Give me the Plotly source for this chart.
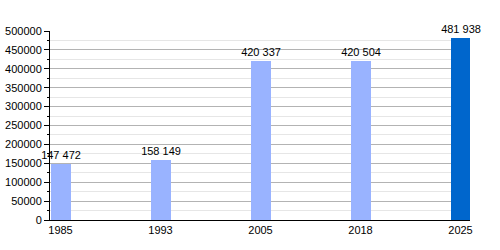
import plotly.graph_objects as go

years = ["1985", "1993", "2005", "2018", "2025"]
population = [147472, 158149, 420337, 420504, 481938]
bar_colors = ["#99b3ff", "#99b3ff", "#99b3ff", "#99b3ff", "#0066cc"]
labels = [f"{v:,}".replace(",", " ") for v in population]
y_ticks = list(range(0, 500001, 50000))

fig = go.Figure(go.Bar(
    x=list(range(len(years))), y=population, width=0.2,
    marker=dict(color=bar_colors, line=dict(width=0)),
    text=labels, textposition="outside", cliponaxis=False,
    constraintext="none",
    textfont=dict(size=11, color="black"),
))
fig.update_layout(
    width=500, height=250, margin=dict(l=50, r=30, t=31, b=30),
    plot_bgcolor="white", paper_bgcolor="white",
    font=dict(family="Liberation Sans, Arial", size=11, color="black"),
    showlegend=False, bargap=0,
)
fig.update_xaxes(
    range=[-0.105, 4.095], tickvals=list(range(len(years))), ticktext=years,
    showgrid=False, showline=True, linecolor="black", linewidth=1, ticks="",
    zeroline=False, automargin=False,
)
fig.update_yaxes(
    range=[0, 500000], tickvals=y_ticks, ticktext=[str(v) for v in y_ticks],
    showgrid=True, gridcolor="#b3b3b3", gridwidth=1,
    showline=True, linecolor="black", linewidth=1,
    ticks="outside", ticklen=5, tickcolor="black",
    minor=dict(dtick=25000, tick0=0, showgrid=True, gridcolor="#e6e6e6",
               ticks="outside", ticklen=2, tickcolor="black"),
    zeroline=False, automargin=False,
)
fig.write_html("out.html")
